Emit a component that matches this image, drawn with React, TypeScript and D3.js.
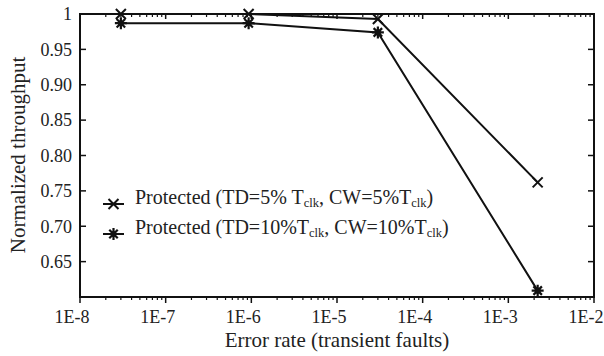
import React, { useEffect, useRef } from 'react';
import * as d3 from 'd3';

// error rates (x) and normalized throughput for each protected configuration
const errorRates = [3e-8, 9.3e-7, 3e-5, 2.2e-3];
const td5Values = [1.0, 1.0, 0.993, 0.762];
const td10Values = [0.987, 0.987, 0.974, 0.609];
const xTickLabels = ['1E-8', '1E-7', '1E-6', '1E-5', '1E-4', '1E-3', '1E-2'];
const yTickValues = [0.65, 0.7, 0.75, 0.8, 0.85, 0.9, 0.95, 1];

const App = () => {
    const svgRef = useRef(null);

    useEffect(() => {
        const svg = d3.select(svgRef.current);
        svg.selectAll('*').remove();

        const margin = { top: 14, right: 10, bottom: 59, left: 80 };
        const width = 604 - margin.left - margin.right;
        const height = 356 - margin.top - margin.bottom;
        const font = '"Liberation Serif", "Times New Roman", serif';

        const g = svg.append('g').attr('transform', `translate(${margin.left},${margin.top})`);

        const x = d3.scaleLog().domain([1e-8, 1e-2]).range([0, width]);
        const y = d3.scaleLinear().domain([0.6, 1]).range([height, 0]);

        // minor + major x ticks
        const majors = xTickLabels.map(s => +s);
        const minors = [];
        majors.slice(0, -1).forEach(m => {
            for (let k = 2; k <= 9; k++) minors.push(m * k);
        });

        // bottom axis ticks (pointing down)
        g.selectAll('.xmaj-b').data(majors).enter().append('line')
            .attr('x1', d => x(d)).attr('x2', d => x(d))
            .attr('y1', height).attr('y2', height + 6)
            .attr('stroke', '#111').attr('stroke-width', 1.5);
        g.selectAll('.xmin-b').data(minors).enter().append('line')
            .attr('x1', d => x(d)).attr('x2', d => x(d))
            .attr('y1', height).attr('y2', height + 3)
            .attr('stroke', '#111').attr('stroke-width', 1.2);
        // top axis ticks (pointing down, inward)
        g.selectAll('.xmaj-t').data(majors).enter().append('line')
            .attr('x1', d => x(d)).attr('x2', d => x(d))
            .attr('y1', 0).attr('y2', 5)
            .attr('stroke', '#111').attr('stroke-width', 1.5);
        g.selectAll('.xmin-t').data(minors).enter().append('line')
            .attr('x1', d => x(d)).attr('x2', d => x(d))
            .attr('y1', 0).attr('y2', 3)
            .attr('stroke', '#111').attr('stroke-width', 1.2);

        // y ticks, inward on both sides
        g.selectAll('.ytl').data(yTickValues).enter().append('line')
            .attr('x1', 0).attr('x2', 6)
            .attr('y1', d => y(d)).attr('y2', d => y(d))
            .attr('stroke', '#111').attr('stroke-width', 1.5);
        g.selectAll('.ytr').data(yTickValues).enter().append('line')
            .attr('x1', width - 6).attr('x2', width)
            .attr('y1', d => y(d)).attr('y2', d => y(d))
            .attr('stroke', '#111').attr('stroke-width', 1.5);

        // frame
        g.append('rect')
            .attr('width', width).attr('height', height)
            .attr('fill', 'none').attr('stroke', '#111').attr('stroke-width', 2);

        // tick labels (sit a little left of their ticks, like the original)
        g.selectAll('.xlab').data(xTickLabels).enter().append('text')
            .attr('x', d => x(+d) - 8).attr('y', height + 26)
            .attr('text-anchor', 'middle')
            .attr('font-family', font).attr('font-size', 18).attr('fill', '#222')
            .text(d => d);
        g.selectAll('.ylab').data(yTickValues).enter().append('text')
            .attr('x', -8).attr('y', d => y(d)).attr('dy', '0.35em')
            .attr('text-anchor', 'end')
            .attr('font-family', font).attr('font-size', 18).attr('fill', '#222')
            .text(d => (d === 1 ? '1' : d.toFixed(2)));

        // axis titles
        g.append('text')
            .attr('x', 257).attr('y', height + 50)
            .attr('text-anchor', 'middle')
            .attr('font-family', font).attr('font-size', 21).attr('fill', '#222')
            .text('Error rate (transient faults)');
        g.append('text')
            .attr('transform', `translate(${-55},${141}) rotate(-90)`)
            .attr('text-anchor', 'middle')
            .attr('font-family', font).attr('font-size', 21).attr('fill', '#222')
            .text('Normalized throughput');

        const line = d3.line().x(d => x(d[0])).y(d => y(d[1]));
        const series = [
            { values: td5Values, marker: 'x' },
            { values: td10Values, marker: 'star' },
        ];

        const drawMarker = (sel, type, cx, cy) => {
            if (type === 'x') {
                const r = 5;
                sel.append('path')
                    .attr('d', `M${cx - r},${cy - r}L${cx + r},${cy + r}M${cx - r},${cy + r}L${cx + r},${cy - r}`)
                    .attr('stroke', '#111').attr('stroke-width', 2).attr('fill', 'none');
            } else {
                const r = 6;
                const spokes = d3.range(4).map(i => {
                    const a = (i * Math.PI) / 4;
                    return `M${cx - r * Math.cos(a)},${cy - r * Math.sin(a)}L${cx + r * Math.cos(a)},${cy + r * Math.sin(a)}`;
                }).join('');
                sel.append('path').attr('d', spokes)
                    .attr('stroke', '#111').attr('stroke-width', 2.2).attr('fill', 'none');
                sel.append('circle').attr('cx', cx).attr('cy', cy).attr('r', 2.8).attr('fill', '#111');
            }
        };

        series.forEach(s => {
            const pts = errorRates.map((e, i) => [e, s.values[i]]);
            g.append('path').datum(pts)
                .attr('d', line)
                .attr('fill', 'none').attr('stroke', '#111').attr('stroke-width', 2);
            pts.forEach(p => drawMarker(g, s.marker, x(p[0]), y(p[1])));
        });

        // legend
        const legend = g.append('g').attr('transform', 'translate(23,190)');
        const entries = [
            { marker: 'x', parts: ['Protected (TD=5% T', 'clk', ', CW=5%T', 'clk', ')'] },
            { marker: 'star', parts: ['Protected (TD=10%T', 'clk', ', CW=10%T', 'clk', ')'] },
        ];
        entries.forEach((e, i) => {
            const ly = i * 30;
            legend.append('line')
                .attr('x1', 0).attr('x2', 21).attr('y1', ly).attr('y2', ly)
                .attr('stroke', '#111').attr('stroke-width', 2);
            drawMarker(legend, e.marker, 10.5, ly);
            const t = legend.append('text')
                .attr('x', 32).attr('y', ly).attr('dy', '0.35em')
                .attr('font-family', font).attr('font-size', 20).attr('fill', '#222');
            e.parts.forEach((p, j) => {
                const sub = j % 2 === 1;
                t.append('tspan')
                    .attr('font-size', sub ? 12.5 : 20)
                    .attr('dy', sub ? 3 : (j > 0 ? -3 : 0))
                    .text(p);
            });
        });
    }, []);

    return <svg ref={svgRef} width={604} height={356} style={{ display: 'block', position: 'absolute', left: 0, top: 0 }}></svg>;
};

export default App;
